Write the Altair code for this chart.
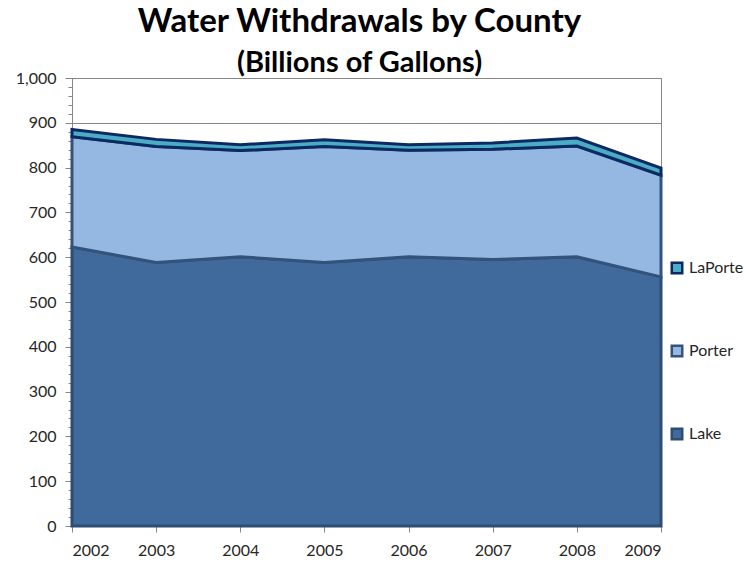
import altair as alt
import pandas as pd

years = [2002, 2003, 2004, 2005, 2006, 2007, 2008, 2009]
lake = [623, 588, 601, 588, 601, 595, 601, 556]
porter = [246, 259, 237, 259, 238, 246, 247, 227]
laporte = [16, 16, 13, 15, 12, 14, 18, 16]

series_names = ["Lake", "Porter", "LaPorte"]
legend_order = ["LaPorte", "Porter", "Lake"]
fill_colors = ["#4BACC6", "#95B8E3", "#406A9C"]
stroke_colors = ["#0B2A63", "#34537A", "#2F4D72"]
y_ticks = list(range(0, 1001, 100))
y_minor = list(range(0, 1001, 20))

rows = []
for k, (name, vals) in enumerate(zip(series_names, [lake, porter, laporte])):
    for yr, v in zip(years, vals):
        rows.append({"year": yr, "county": name, "value": v, "order": k})
df = pd.DataFrame(rows)

FONT = "Lato"
GRAY = "#868686"

yscale = alt.Scale(domain=[0, 1000], nice=False, zero=True)
xscale = alt.Scale(domain=[2002, 2009], nice=False, zero=False)

legend_kw = dict(
    title=None, orient="none", legendX=597, legendY=182,
    symbolType="square", symbolSize=110, symbolStrokeWidth=2.5,
    symbolOpacity=1, labelFont=FONT, labelFontSize=16, labelColor="#262626",
    rowPadding=61, labelOffset=4,
)

area = alt.Chart(df).mark_area(strokeWidth=3, interpolate="linear", opacity=1, fillOpacity=1).encode(
    x=alt.X("year:Q", scale=xscale, axis=alt.Axis(
        values=years, labelExpr="format(datum.value, 'd')", title=None, grid=False,
        domainColor=GRAY, tickColor=GRAY, tickSize=6, labelPadding=10,
        labelFont=FONT, labelFontSize=16, labelColor="#262626")),
    y=alt.Y("value:Q", stack="zero", scale=yscale, axis=alt.Axis(
        values=y_ticks, labelExpr="format(datum.value, ',')", title=None, grid=True, gridColor=GRAY,
        domainColor=GRAY, tickColor=GRAY, tickSize=7, labelPadding=9,
        labelFont=FONT, labelFontSize=16, labelColor="#262626", orient="left")),
    fill=alt.Fill("county:N", scale=alt.Scale(domain=legend_order, range=fill_colors),
                  legend=alt.Legend(**legend_kw)),
    stroke=alt.Stroke("county:N", scale=alt.Scale(domain=legend_order, range=stroke_colors),
                      legend=alt.Legend(**legend_kw)),
    order=alt.Order("order:Q"),
)

minor = alt.Chart(df).mark_point(opacity=0).encode(
    y=alt.Y("value:Q", scale=yscale, axis=alt.Axis(
        orient="left", values=y_minor, labels=False, domain=False, grid=False,
        ticks=True, tickSize=4, tickColor=GRAY, title=None)),
)

chart = alt.layer(area, minor).resolve_axis(y="independent").properties(
    width=589, height=448,
    autosize=alt.AutoSizeParams(type="none"),
    padding={"left": 72, "top": 78, "right": 85, "bottom": 37},
    title=alt.TitleParams(
        text="Water Withdrawals by County", subtitle="(Billions of Gallons)",
        font=FONT, subtitleFont=FONT, fontSize=33, subtitleFontSize=29,
        fontWeight="bold", subtitleFontWeight="bold", color="black",
        subtitleColor="black", anchor="middle", offset=-8, subtitlePadding=10, dx=-7),
).configure_view(stroke=GRAY, strokeWidth=1)

chart.save("out.html", embed_options={"renderer": "svg", "actions": False})
